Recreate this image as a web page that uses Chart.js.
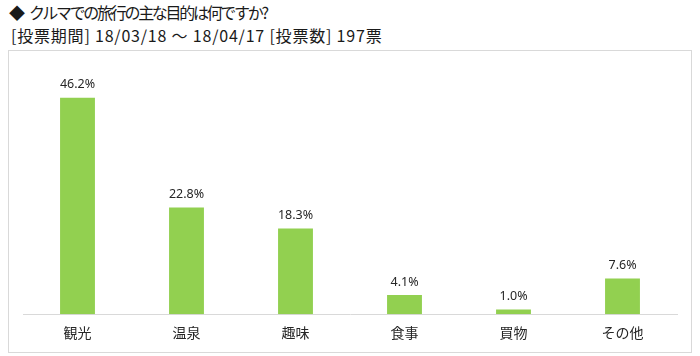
<!DOCTYPE html>
<html><head><meta charset="utf-8">
<script src="https://cdn.jsdelivr.net/npm/chart.js@4"></script>
<style>
html,body{margin:0;padding:0;background:#fff;width:700px;height:356px;overflow:hidden;font-family:"Noto Sans CJK JP","Noto Sans",sans-serif;}
#t1,#t2{position:absolute;font-size:16px;color:#1a1a1a;white-space:nowrap;line-height:20px;}
#t1{top:2px;left:9px;}
#t1 span{letter-spacing:-2.3px;margin-left:4px;}
#t2{top:25px;left:11px;letter-spacing:0.8px;}
#box{position:absolute;left:8px;top:50px;width:682px;height:301px;border:1px solid #d9d9d9;}
canvas{display:block;}
</style></head><body>
<div id="t1">◆<span>クルマでの旅行の主な目的は何ですか?</span></div>
<div id="t2">[投票期間] 18/03/18 〜 18/04/17 [投票数] 197票</div>
<div id="box"><canvas id="c" width="682" height="301"></canvas></div>
<script>
const categories = ["観光","温泉","趣味","食事","買物","その他"];
const values = [46.2, 22.8, 18.3, 4.1, 1.0, 7.6];
const valueLabels = ["46.2%","22.8%","18.3%","4.1%","1.0%","7.6%"];

const labelPlugin = {
  id: 'valLabels',
  afterDatasetsDraw(chart) {
    const ctx = chart.ctx;
    const meta = chart.getDatasetMeta(0);
    ctx.save();
    ctx.font = '12.5px "Noto Sans", "Noto Sans CJK JP", sans-serif';
    ctx.fillStyle = '#262626';
    ctx.textAlign = 'center';
    ctx.textBaseline = 'middle';
    meta.data.forEach((bar, i) => {
      ctx.fillText(valueLabels[i], bar.x, bar.y - 13);
    });
    ctx.restore();
  }
};

new Chart(document.getElementById('c'), {
  type: 'bar',
  data: {
    labels: categories,
    datasets: [{
      data: values,
      backgroundColor: '#92D050',
      categoryPercentage: 1.0,
      barPercentage: 0.32
    }]
  },
  options: {
    responsive: false,
    animation: false,
    layout: { padding: { left: 14, right: 14, top: 29, bottom: 1 } },
    plugins: { legend: { display: false }, tooltip: { enabled: false } },
    scales: {
      x: {
        grid: { display: false, drawTicks: false },
        border: { display: true, color: '#d9d9d9', width: 1 },
        ticks: { color: '#262626', font: { size: 14, family: '"Noto Sans CJK JP", sans-serif' }, padding: 10 }
      },
      y: { display: false, min: 0, max: 50 }
    }
  },
  plugins: [labelPlugin]
});
</script>
</body></html>
